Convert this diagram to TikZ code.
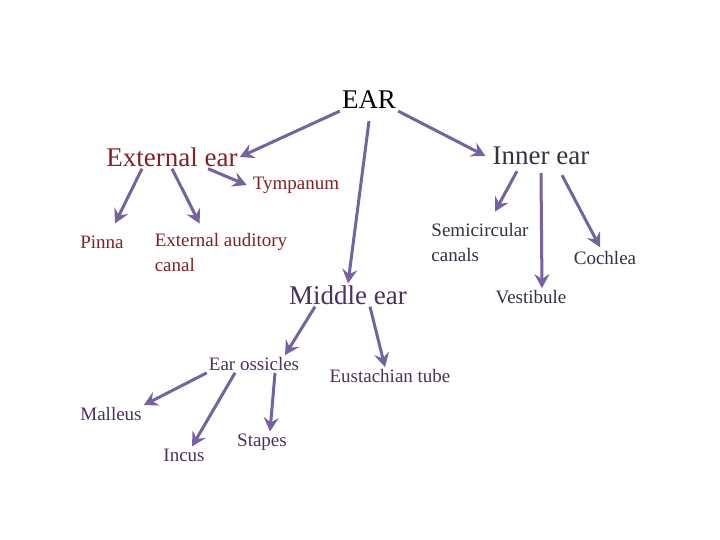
\documentclass[tikz,border=0pt]{standalone}
\usepackage{fontspec}
\setmainfont{Liberation Serif}
\usetikzlibrary{arrows.meta}
\definecolor{extred}{HTML}{852024}
\definecolor{innslate}{HTML}{2F3440}
\definecolor{midpurple}{HTML}{4B3063}
\definecolor{arrpurple}{HTML}{7562A0}
\tikzset{
  big/.style={font=\fontsize{27}{30}\selectfont, inner sep=2pt},
  small/.style={font=\fontsize{19}{25}\selectfont, inner sep=2pt, align=left},
  arr/.style={draw=arrpurple, line width=3pt, -{Stealth[length=14pt,width=15pt,inset=5pt]}}
}
\begin{document}
\begin{tikzpicture}[x=1pt,y=-1pt]
\useasboundingbox[fill=white] (0,0) rectangle (720,540);
% top
\node[big] (ear) at (369,100) {EAR};
% external ear
\node[big, text=extred] (ext) at (172,157) {External ear};
\node[small, text=extred] (tym) at (296,185) {Tympanum};
\node[small, text=extred] (pin) at (102,242) {Pinna};
\node[small, text=extred] (eac) at (221,253) {External auditory\\canal};
% inner ear
\node[big, text=innslate] (inn) at (541,156) {Inner ear};
\node[small, text=innslate] (semi) at (480,243) {Semicircular\\canals};
\node[small, text=innslate] (coch) at (605,258) {Cochlea};
\node[small, text=innslate] (vest) at (531,297) {Vestibule};
% middle ear
\node[big, text=midpurple] (mid) at (348,295) {Middle ear};
\node[small, text=midpurple] (oss) at (254,364) {Ear ossicles};
\node[small, text=midpurple] (eus) at (390,376) {Eustachian tube};
\node[small, text=midpurple] (mal) at (111,414) {Malleus};
\node[small, text=midpurple] (inc) at (184,455) {Incus};
\node[small, text=midpurple] (sta) at (262,442) {Stapes};
% connectors
\draw[arr] (ear.south west) -- (ext.east);
\draw[arr] ([yshift=-10pt]ear.south) -- (mid.north);
\draw[arr] (ear.south east) -- ([xshift=-5pt]inn.west);
\draw[arr] ([xshift=36pt]ext.south) -- ([xshift=-4pt]tym.west);
\draw[arr] ([xshift=-30pt]ext.south) -- ([xshift=13pt,yshift=10pt]pin.north);
\draw[arr] (ext.south) -- ([xshift=47pt,yshift=8pt]eac.north west);
\draw[arr] ([xshift=-24pt,yshift=-4pt]inn.south) -- ([xshift=15pt,yshift=10pt]semi.north);
\draw[arr] ([yshift=-6pt]inn.south) -- ([xshift=11pt]vest.north);
\draw[arr] ([xshift=21pt,yshift=-8pt]inn.south) -- ([xshift=-5pt,yshift=2pt]coch.north);
\draw[arr] ([xshift=-33pt]mid.south) -- ([xshift=31pt]oss.north);
\draw[arr] ([xshift=22pt]mid.south) -- ([xshift=-5pt]eus.north);
\draw[arr] (oss.south west) -- (mal.north east);
\draw[arr] ([xshift=-19pt]oss.south) -- ([xshift=8pt]inc.north);
\draw[arr] ([xshift=21pt]oss.south) -- ([xshift=8pt]sta.north);
\end{tikzpicture}
\end{document}
